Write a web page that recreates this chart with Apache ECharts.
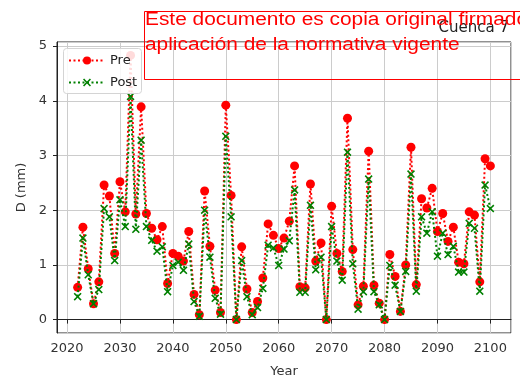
<!DOCTYPE html>
<html>
<head>
<meta charset="utf-8">
<script src="https://cdn.jsdelivr.net/npm/echarts@6/dist/echarts.min.js"></script>
<style>
  html, body { margin: 0; padding: 0; background: #fff; }
  #chart { width: 520px; height: 383px; }
</style>
</head>
<body>
<div id="chart"></div>
<script>
// Yearly D (mm), 2022-2100, before and after
const years = [];
for (let y = 2022; y <= 2100; y++) years.push(y);

const preValues = [
  0.59, 1.69, 0.93, 0.29, 0.69, 2.46, 2.26, 1.21, 2.52, 1.97,
  4.83, 1.93, 3.89, 1.94, 1.67, 1.46, 1.70, 0.66, 1.21, 1.16,
  1.07, 1.61, 0.46, 0.09, 2.35, 1.34, 0.54, 0.13, 3.92, 2.27,
  0.00, 1.33, 0.56, 0.13, 0.33, 0.76, 1.75, 1.54, 1.30, 1.49,
  1.80, 2.81, 0.60, 0.58, 2.48, 1.07, 1.40, 0.00, 2.07, 1.21,
  0.88, 3.68, 1.28, 0.27, 0.61, 3.08, 0.63, 0.30, 0.00, 1.19,
  0.79, 0.15, 1.00, 3.15, 0.64, 2.21, 2.04, 2.40, 1.61, 1.94,
  1.43, 1.69, 1.05, 1.02, 1.97, 1.91, 0.69, 2.94, 2.81
];

const postValues = [
  0.42, 1.49, 0.82, 0.29, 0.55, 2.03, 1.88, 1.08, 2.19, 1.70,
  4.08, 1.65, 3.28, 1.70, 1.45, 1.25, 1.33, 0.51, 0.99, 1.05,
  0.90, 1.38, 0.33, 0.06, 2.00, 1.14, 0.39, 0.10, 3.35, 1.88,
  0.00, 1.08, 0.42, 0.09, 0.22, 0.57, 1.36, 1.31, 0.99, 1.29,
  1.44, 2.37, 0.50, 0.50, 2.09, 0.91, 1.14, 0.00, 1.70, 1.07,
  0.72, 3.06, 1.02, 0.19, 0.51, 2.57, 0.51, 0.27, 0.00, 0.99,
  0.63, 0.15, 0.88, 2.66, 0.52, 1.88, 1.58, 1.97, 1.16, 1.58,
  1.19, 1.34, 0.87, 0.87, 1.76, 1.67, 0.52, 2.46, 2.03
];

const seriesNames = ['Pre', 'Post'];
const titleText = 'Cuenca 7';
const stampLines = [
  'Este documento es copia original firmado electrónicamente',
  'aplicación de la normativa vigente'
];

const FONT = 'DejaVu Sans';
const xMark = 'path://M0,1.4 L1.4,0 L5,3.6 L8.6,0 L10,1.4 L6.4,5 L10,8.6 L8.6,10 L5,6.4 L1.4,10 L0,8.6 L3.6,5 Z';

const chart = echarts.init(document.getElementById('chart'), null, { renderer: 'canvas' });

const pairs = vals => years.map((y, i) => [y, vals[i]]);

chart.setOption({
  animation: false,
  backgroundColor: '#fff',
  grid: {
    left: 57, right: 9, top: 42, bottom: 44,
    show: true, borderColor: '#222', borderWidth: 1, backgroundColor: 'transparent'
  },
  xAxis: {
    type: 'value',
    min: 2018.1, max: 2103.9,
    splitNumber: 9, minInterval: 10, maxInterval: 10,
    name: 'Year', nameLocation: 'middle', nameGap: 32,
    nameTextStyle: { fontFamily: FONT, fontSize: 13, color: '#333' },
    axisLine: { show: true, lineStyle: { color: '#222' } },
    axisTick: { show: true, length: 4, lineStyle: { color: '#222' } },
    axisLabel: { fontFamily: FONT, fontSize: 13, color: '#333', margin: 9,
                 showMinLabel: false, showMaxLabel: false,
                 formatter: v => String(Math.round(v)) },
    splitLine: { show: true, lineStyle: { color: '#cccccc', width: 1 } }
  },
  yAxis: {
    type: 'value',
    min: -0.245, max: 5.075,
    splitNumber: 5, minInterval: 1, maxInterval: 1,
    name: 'D (mm)', nameLocation: 'middle', nameGap: 29, nameRotate: 90,
    nameTextStyle: { fontFamily: FONT, fontSize: 13, color: '#333' },
    axisLine: { show: true, lineStyle: { color: '#222' } },
    axisTick: { show: true, length: 4, lineStyle: { color: '#222' } },
    axisLabel: { fontFamily: FONT, fontSize: 13, color: '#333', margin: 10,
                 showMinLabel: false, showMaxLabel: false,
                 formatter: v => String(Math.round(v)) },
    splitLine: { show: true, lineStyle: { color: '#cccccc', width: 1 } }
  },
  legend: {
    data: seriesNames,
    orient: 'vertical',
    left: 63, top: 48,
    itemWidth: 36, itemHeight: 10, itemGap: 9,
    padding: [6, 5, 6, 5],
    backgroundColor: 'transparent',
    textStyle: { fontFamily: FONT, fontSize: 13, color: '#222' },
    zlevel: 1, z: 5
  },
  series: [
    {
      name: seriesNames[0], type: 'line',
      data: pairs(preValues),
      symbol: 'circle', symbolSize: 9,
      itemStyle: { color: '#ff0000' },
      lineStyle: { color: '#ff0000', width: 2, type: [2, 2.5] },
      z: 2
    },
    {
      name: seriesNames[1], type: 'line',
      data: pairs(postValues),
      symbol: xMark, symbolSize: 8,
      itemStyle: { color: '#008000' },
      lineStyle: { color: '#008000', width: 2, type: [2, 2.5] },
      z: 3
    }
  ],
  graphic: [
    {
      // translucent legend frame on its own layer, above the lines
      type: 'rect', x: 63.5, y: 48.5, zlevel: 1, z: 0,
      shape: { width: 78, height: 45, r: 3 },
      style: { fill: 'rgba(255,255,255,0.86)', stroke: '#d4d4d4', lineWidth: 1 }
    },
    {
      type: 'text', right: 11, top: 21, z: 20,
      style: { text: titleText, font: '15px "DejaVu Sans"', fill: '#222' }
    },
    {
      type: 'rect', left: 142, top: 9, z: 30,
      shape: { width: 400, height: 68 },
      style: { fill: 'none', stroke: '#ff0000', lineWidth: 1 }
    },
    {
      type: 'text', x: 145, y: 11, scaleX: 1.16, z: 31,
      style: { text: stampLines[0], font: '18px "Liberation Sans"', fill: '#ff0000' }
    },
    {
      type: 'text', x: 145, y: 36, scaleX: 1.16, z: 31,
      style: { text: stampLines[1], font: '18px "Liberation Sans"', fill: '#ff0000' }
    }
  ]
});
</script>
</body>
</html>
